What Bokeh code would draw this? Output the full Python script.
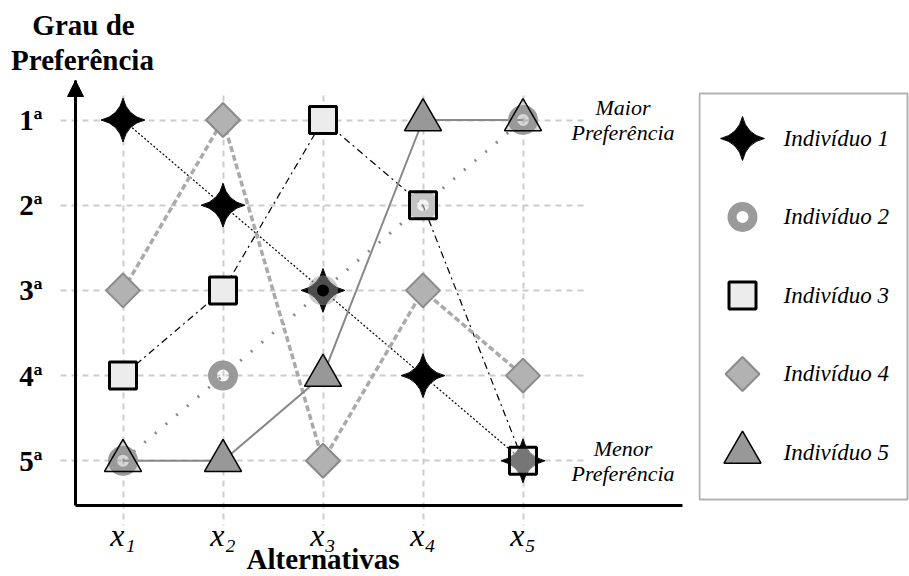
import math
from bokeh.plotting import figure
from bokeh.models import (Range1d, LinearAxis, FixedTicker, Grid, Label, Arrow,
                          NormalHead, ColumnDataSource, BoxAnnotation)
from bokeh.layouts import row
from bokeh.embed import file_html
from bokeh.resources import INLINE
from bokeh.core.properties import value

# ---------------- data ----------------
alternatives = [1, 2, 3, 4, 5]
alt_labels = ["x\u2081", "x\u2082", "x\u2083", "x\u2084", "x\u2085"]
ranks = [1, 2, 3, 4, 5]
rank_labels = ["1ª", "2ª", "3ª", "4ª", "5ª"]
ind1 = [1, 2, 3, 4, 5]
ind2 = [5, 4, 3, 2, 1]
ind3 = [4, 3, 1, 2, 5]
ind4 = [3, 1, 5, 3, 4]
ind5 = [5, 5, 4, 1, 1]
names = ["Indivíduo 1", "Indivíduo 2", "Indivíduo 3", "Indivíduo 4", "Indivíduo 5"]
y_title = ["Grau de", "Preferência"]
x_title = "Alternativas"
top_note = "Maior\nPreferência"
bottom_note = "Menor\nPreferência"

series = [ind1, ind2, ind3, ind4, ind5]
SERIF = "Liberation Serif"


def overlay_alpha(k, a):
    out = []
    for j in range(len(alternatives)):
        below = any(series[m][j] == series[k][j] for m in range(k))
        out.append(a if below else 1.0)
    return out


# ---------------- styles ----------------
STAR = dict(marker="square_pin", size=31, angle=math.pi / 4,
            fill_color="black", line_color="black", line_width=1)
RING = dict(marker="circle", size=21, fill_color=None, line_color="#9a9a9a", line_width=9)
SQUARE = dict(marker="square", size=27, fill_color="#ececec", line_color="black", line_width=3)
DIAMOND = dict(marker="square", size=24, angle=math.pi / 4, fill_color="#b2b2b2",
               line_color="#8a8a8a", line_width=2)
TRI = dict(marker="triangle", size=37, fill_color="#989898", line_color="black", line_width=1.5)

NO_BORDER = dict(min_border_left=0, min_border_right=0, min_border_top=0, min_border_bottom=0)

# ---------------- main figure (frame = whole canvas) ----------------
X_START, X_END = -0.225, 6.755          # x1 at 122 px, 100 px per alternative
Y_BOTTOM, Y_TOP = 6.358, -0.4026        # rank 1 at 120 px, 85 px per rank
AXIS_X = 0.525                          # where the vertical axis stands
AXIS_Y = 5.5246                         # where the horizontal axis stands
AXIS_X_END = 6.595
AXIS_Y_TOP = 0.5364

p = figure(width=698, height=576, x_range=Range1d(X_START, X_END),
           y_range=Range1d(Y_BOTTOM, Y_TOP), x_axis_type=None, y_axis_type=None,
           output_backend="svg", toolbar_location=None, **NO_BORDER)
p.outline_line_color = None
p.background_fill_color = "white"
p.border_fill_color = "white"

xg = Grid(dimension=0, ticker=FixedTicker(ticks=alternatives), grid_line_color="#cccccc",
          grid_line_dash="6 5", grid_line_width=2)
yg = Grid(dimension=1, ticker=FixedTicker(ticks=ranks), grid_line_color="#cccccc",
          grid_line_dash="6 5", grid_line_width=2)
if "cross_bounds" in Grid.properties():
    xg.cross_bounds = (0.712, 5.76)
    yg.cross_bounds = (0.375, 5.655)
p.add_layout(xg)
p.add_layout(yg)

yaxis = LinearAxis(ticker=FixedTicker(ticks=ranks), fixed_location=AXIS_X,
                   bounds=(AXIS_Y_TOP, AXIS_Y),
                   major_label_overrides={r: l for r, l in zip(ranks, rank_labels)})
yaxis.major_tick_line_color = None
yaxis.minor_tick_line_color = None
yaxis.axis_line_width = 3
yaxis.axis_line_color = "black"
yaxis.major_label_standoff = 27
yaxis.major_label_text_font = SERIF
yaxis.major_label_text_font_style = "bold"
yaxis.major_label_text_font_size = "29px"
yaxis.major_label_text_color = "black"
p.add_layout(yaxis, "left")

xaxis = LinearAxis(ticker=FixedTicker(ticks=alternatives), fixed_location=AXIS_Y,
                   bounds=(AXIS_X, AXIS_X_END),
                   major_label_overrides={a: l for a, l in zip(alternatives, alt_labels)})
xaxis.major_tick_line_color = None
xaxis.minor_tick_line_color = None
xaxis.axis_line_width = 3
xaxis.axis_line_color = "black"
xaxis.major_label_standoff = 6
xaxis.major_label_text_font = SERIF
xaxis.major_label_text_font_style = "italic"
xaxis.major_label_text_font_size = "32px"
xaxis.major_label_text_color = "black"
p.add_layout(xaxis, "below")

p.add_layout(Arrow(end=NormalHead(size=16, fill_color="black", line_color="black"),
                   x_start=AXIS_X, y_start=AXIS_Y_TOP + 0.3, x_end=AXIS_X, y_end=AXIS_Y_TOP,
                   line_width=3, line_color="black"))

# connecting lines
p.line(alternatives, ind1, line_color="black", line_width=1.2, line_dash="2 2")
p.line(alternatives, ind2, line_color="#8a8a8a", line_width=3, line_dash="2 12")
p.line(alternatives, ind3, line_color="black", line_width=1.2, line_dash="7 4 2 4")
p.line(alternatives, ind4, line_color="#aaaaaa", line_width=3.5, line_dash="6 3")
p.line(alternatives, ind5, line_color="#888888", line_width=2)

# markers
src = [ColumnDataSource(dict(x=alternatives, y=s, a=overlay_alpha(k, 0.5)))
       for k, s in enumerate(series)]
p.scatter("x", "y", source=src[0], **STAR)
p.scatter("x", "y", source=src[1], line_alpha="a", **RING)
p.scatter("x", "y", source=src[2], fill_alpha="a", **SQUARE)
p.scatter("x", "y", source=src[3], fill_alpha="a", **DIAMOND)
src5 = ColumnDataSource(dict(x=alternatives, y=ind5, a=overlay_alpha(4, 0.4)))
p.scatter("x", "y", source=src5, fill_alpha="a", **TRI)

# texts
NOTE = dict(text_align="center", text_baseline="middle", text_line_height=1.0,
            text_font=SERIF, text_font_style="italic", text_font_size="22px",
            text_color="black")
p.add_layout(Label(x=alternatives[-1], y=ranks[0], x_offset=100, text=top_note, **NOTE))
p.add_layout(Label(x=alternatives[-1], y=ranks[-1], x_offset=100, text=bottom_note, **NOTE))
TITLE = dict(text_align="center", text_baseline="alphabetic", text_font=SERIF,
             text_font_style="bold", text_font_size="29px", text_color="black")
p.add_layout(Label(x=83, y=552, x_units="screen", y_units="screen", text=y_title[0], **TITLE))
p.add_layout(Label(x=82, y=517, x_units="screen", y_units="screen", text=y_title[1], **TITLE))
p.add_layout(Label(x=alternatives[2], y=18, y_units="screen", text=x_title, **TITLE))

# ---------------- legend figure (frame = whole canvas) ----------------
legend_rows = [1, 2, 3, 4, 5]
LEG_MARK_X = 44
LEG_TEXT_X = 85
LEG_BOX = dict(left=1, right=209, top=0.427, bottom=5.599)
lg = figure(width=211, height=576, x_range=Range1d(0, 211), y_range=Range1d(6.580, -0.758),
            x_axis_type=None, y_axis_type=None, output_backend="svg", toolbar_location=None,
            **NO_BORDER)
lg.outline_line_color = None
lg.background_fill_color = "white"
lg.border_fill_color = "white"
lg.xgrid.visible = False
lg.ygrid.visible = False
lg.add_layout(BoxAnnotation(fill_alpha=0, line_color="black", line_width=2, **LEG_BOX))
styles = [STAR, RING, SQUARE, DIAMOND, TRI]
for r, st in zip(legend_rows, styles):
    lg.scatter([LEG_MARK_X], [r], **st)
lg.text(x=[LEG_TEXT_X] * len(names), y=legend_rows, text=names,
        text_font=value(SERIF), text_font_style="italic", text_font_size="23px",
        text_baseline="middle", text_color="black")

layout = row(p, lg)
open("out.html", "w").write(file_html(layout, INLINE))
